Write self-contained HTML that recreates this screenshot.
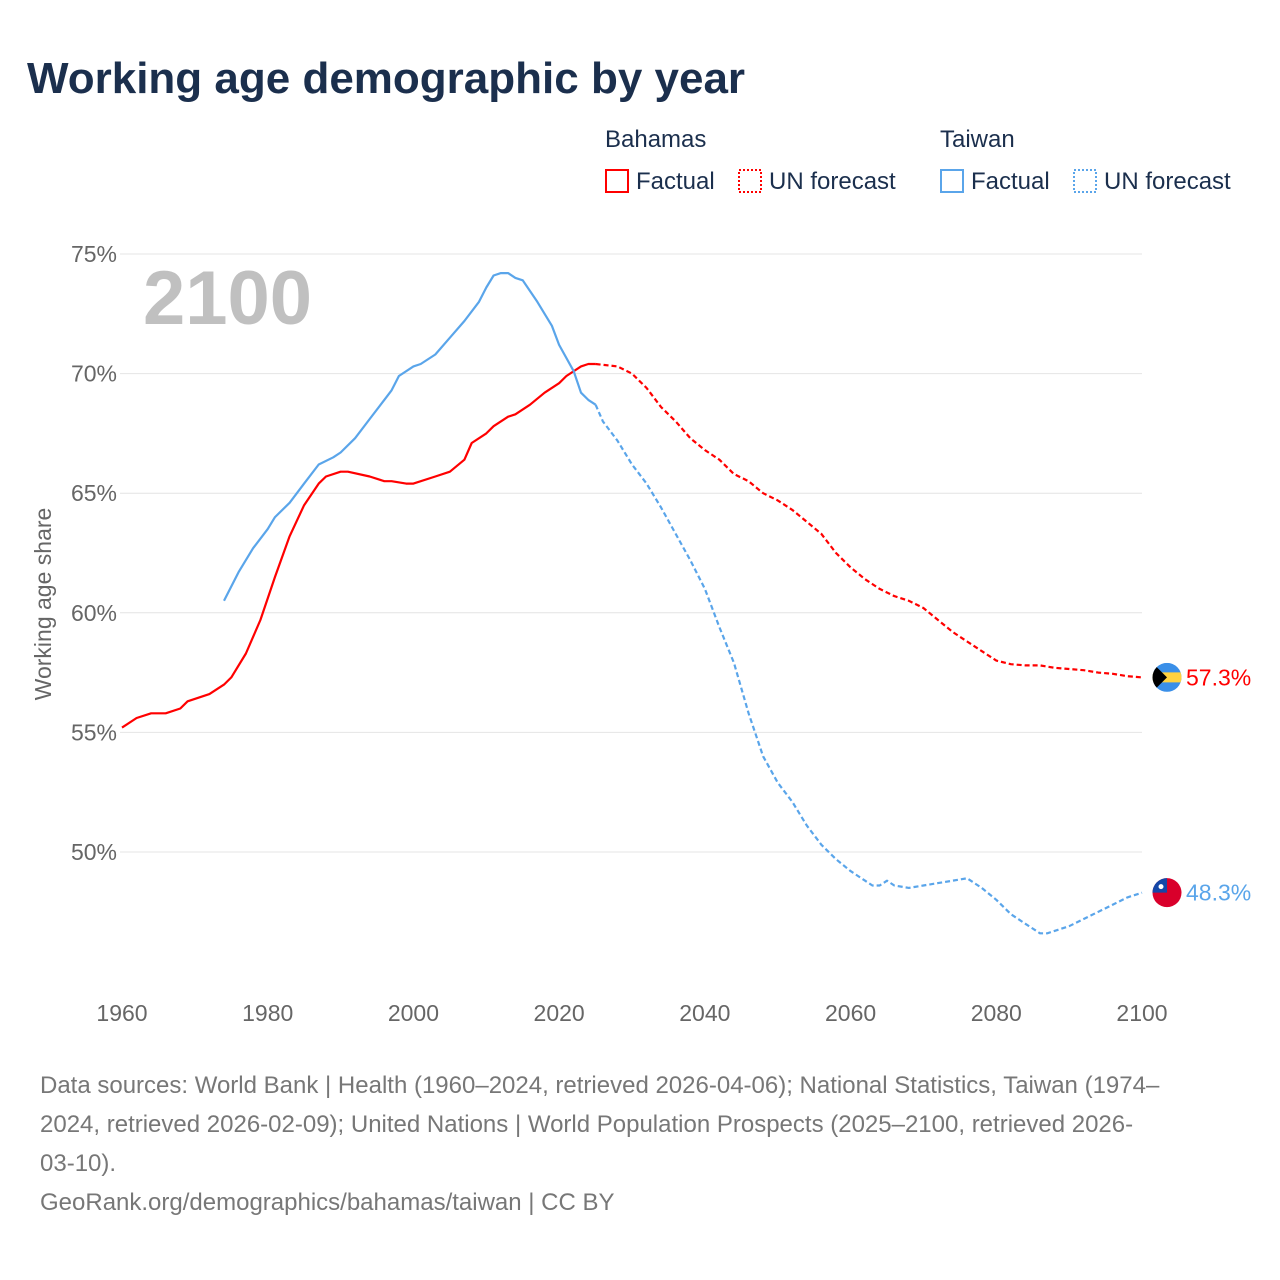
<!DOCTYPE html>
<html><head><meta charset="utf-8">
<style>
body{margin:0;background:#fff;font-family:"Liberation Sans",sans-serif;}
#wrap{position:relative;width:1280px;height:1280px;overflow:hidden;}
svg text{font-family:"Liberation Sans",sans-serif;}
</style></head>
<body><div id="wrap">
<svg id="chart" width="1280" height="1280">
<text x="27" y="93" font-size="44" font-weight="bold" fill="#1b2f4d">Working age demographic by year</text>
<g>
<text x="605" y="147" font-size="24" fill="#1b2f4d">Bahamas</text>
<text x="940" y="147" font-size="24" fill="#1b2f4d">Taiwan</text>
<g><rect x="606" y="170" width="22" height="22" fill="none" stroke="#f00" stroke-width="2"/><text x="636" y="189" font-size="24" fill="#1b2f4d">Factual</text></g>
<g><rect x="739" y="170" width="22" height="22" fill="none" stroke="#f00" stroke-width="2" stroke-dasharray="2,2"/><text x="769" y="189" font-size="24" fill="#1b2f4d">UN forecast</text></g>
<g><rect x="941" y="170" width="22" height="22" fill="none" stroke="#5aa5ea" stroke-width="2"/><text x="971" y="189" font-size="24" fill="#1b2f4d">Factual</text></g>
<g><rect x="1074" y="170" width="22" height="22" fill="none" stroke="#5aa5ea" stroke-width="2" stroke-dasharray="2,2"/><text x="1104" y="189" font-size="24" fill="#1b2f4d">UN forecast</text></g>
</g>
<text x="143" y="324" font-size="76" font-weight="bold" fill="#c0c0c0">2100</text>
<text transform="translate(51,604) rotate(-90)" text-anchor="middle" font-size="23" fill="#666">Working age share</text>
<g id="grid"></g><g id="series"></g>
</svg>
<div style="position:absolute;left:40px;top:1066px;width:1230px;font-size:24px;line-height:39px;color:#777;white-space:nowrap;">Data sources: World Bank | Health (1960–2024, retrieved 2026-04-06); National Statistics, Taiwan (1974–<br>2024, retrieved 2026-02-09); United Nations | World Population Prospects (2025–2100, retrieved 2026-<br>03-10).<br><span>GeoRank.org/demographics/bahamas/taiwan | CC BY</span></div>
</div>
<script>
const yTicks=[50,55,60,65,70,75];
const xTicks=[1960,1980,2000,2020,2040,2060,2080,2100];
const bhsFactYears=[1960,1962,1964,1966,1968,1969,1972,1974,1975,1977,1979,1981,1983,1985,1987,1988,1990,1991,1994,1996,1997,1999,2000,2003,2005,2007,2008,2010,2011,2013,2014,2016,2018,2020,2021,2023,2024,2025];
const bhsFactVals=[55.2,55.6,55.8,55.8,56.0,56.3,56.6,57.0,57.3,58.3,59.7,61.5,63.2,64.5,65.4,65.7,65.9,65.9,65.7,65.5,65.5,65.4,65.4,65.7,65.9,66.4,67.1,67.5,67.8,68.2,68.3,68.7,69.2,69.6,69.9,70.3,70.4,70.4];
const bhsFcYears=[2025,2028,2030,2032,2034,2036,2038,2040,2042,2044,2046,2048,2050,2052,2054,2056,2058,2060,2062,2064,2066,2068,2070,2072,2074,2076,2078,2080,2082,2084,2086,2088,2090,2092,2094,2096,2098,2100];
const bhsFcVals=[70.4,70.3,70.0,69.4,68.6,68.0,67.3,66.8,66.4,65.8,65.5,65.0,64.7,64.3,63.8,63.3,62.5,61.9,61.4,61.0,60.7,60.5,60.2,59.7,59.2,58.8,58.4,58.0,57.85,57.8,57.8,57.7,57.65,57.6,57.5,57.45,57.35,57.3];
const twnFactYears=[1974,1976,1978,1980,1981,1983,1985,1987,1989,1990,1992,1994,1996,1997,1998,2000,2001,2003,2005,2007,2009,2010,2011,2012,2013,2014,2015,2017,2019,2020,2022,2023,2024,2025];
const twnFactVals=[60.5,61.7,62.7,63.5,64.0,64.6,65.4,66.2,66.5,66.7,67.3,68.1,68.9,69.3,69.9,70.3,70.4,70.8,71.5,72.2,73.0,73.6,74.1,74.2,74.2,74.0,73.9,73.0,72.0,71.2,70.1,69.2,68.9,68.7];
const twnFcYears=[2025,2026,2028,2030,2032,2034,2036,2038,2040,2042,2044,2046,2048,2050,2052,2054,2056,2058,2060,2062,2063,2064,2065,2066,2068,2070,2072,2074,2076,2078,2080,2082,2084,2086,2087,2090,2092,2094,2096,2098,2100];
const twnFcVals=[68.7,68.0,67.2,66.2,65.4,64.4,63.3,62.2,61.0,59.4,57.9,55.8,54.0,52.9,52.1,51.1,50.3,49.7,49.2,48.8,48.6,48.6,48.8,48.6,48.5,48.6,48.7,48.8,48.9,48.5,48.0,47.4,47.0,46.6,46.6,46.9,47.2,47.5,47.8,48.1,48.3];
const labelVals=[57.3,48.3];

const X=y=>122+(y-1960)*(1020/140);
const Y=v=>254+(75-v)*23.92;
const NS='http://www.w3.org/2000/svg';
const grid=document.getElementById('grid'),ser=document.getElementById('series');
function mk(t,a,p){const e=document.createElementNS(NS,t);for(const k in a)e.setAttribute(k,a[k]);p.appendChild(e);return e;}
yTicks.forEach(v=>{
  const l=mk('line',{x1:120,x2:1142,y1:Y(v),y2:Y(v),stroke:'#e4e4e4','stroke-width':1},grid);
  
  
  const t=mk('text',{x:117,y:Y(v)+8,'text-anchor':'end','font-size':23,fill:'#666'},grid);
  t.textContent=v+'%';
  
  
});
xTicks.forEach(y=>{
  const t=mk('text',{x:X(y),y:1021,'text-anchor':'middle','font-size':23,fill:'#666'},grid);
  t.textContent=y;
  
  
});
function line(ys,vs,col,dash,name){
  const d=ys.map((y,i)=>(i?'L':'M')+X(y).toFixed(1)+','+Y(vs[i]).toFixed(1)).join('');
  const p=mk('path',{d:d,fill:'none',stroke:col,'stroke-width':2.2,'stroke-linejoin':'round'},ser);
  if(dash)p.setAttribute('stroke-dasharray','5,3');
  
  
}
line(bhsFcYears,bhsFcVals,'#f00',true,'bahamas-forecast-line');
line(twnFcYears,twnFcVals,'#5aa5ea',true,'taiwan-forecast-line');
line(bhsFactYears,bhsFactVals,'#f00',false,'bahamas-factual-line');
line(twnFactYears,twnFactVals,'#5aa5ea',false,'taiwan-factual-line');
const cx=1167,R=14.5;
let by=Y(labelVals[0]);
const g1=mk('g',{},ser);


const cp=mk('clipPath',{id:'c1'},g1);
mk('circle',{cx:cx,cy:by,r:R},cp);
const gc1=mk('g',{'clip-path':'url(#c1)'},g1);
mk('rect',{x:cx-R,y:by-R,width:2*R,height:2*R,fill:'#3a8fe8'},gc1);
mk('rect',{x:cx-R,y:by-5,width:2*R,height:10,fill:'#ffd23f'},gc1);
mk('polygon',{points:(cx-R)+','+(by-R)+' '+(cx)+','+by+' '+(cx-R)+','+(by+R),fill:'#000'},gc1);
let ty=Y(labelVals[1]);
const g2=mk('g',{},ser);


mk('circle',{cx:cx,cy:ty,r:R,fill:'#d9002b'},g2);
mk('path',{d:`M${cx-R},${ty} A${R},${R} 0 0 1 ${cx},${ty-R} L${cx},${ty} Z`,fill:'#1447a8'},g2);
mk('circle',{cx:cx-6,cy:ty-6,r:2.5,fill:'#fff'},g2);
const l1=mk('text',{x:1186,y:by+8,'font-size':23,fill:'#f00'},ser);
l1.textContent=labelVals[0].toFixed(1)+'%';


const l2=mk('text',{x:1186,y:ty+8,'font-size':23,fill:'#5aa5ea'},ser);
l2.textContent=labelVals[1].toFixed(1)+'%';


</script>
</body></html>
